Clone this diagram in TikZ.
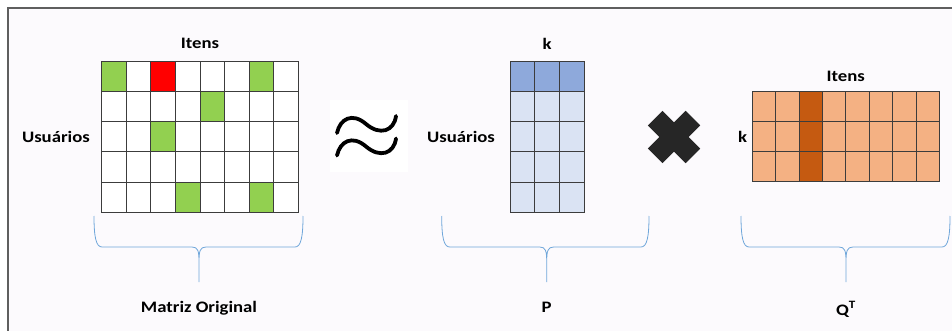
\documentclass[tikz,border=0pt]{standalone}
\usepackage{fontspec}
\setmainfont[FakeStretch=1.17]{Carlito}
\usetikzlibrary{positioning}

\definecolor{bgc}{HTML}{FCFAFD}
\definecolor{framec}{HTML}{5F5F5F}
\definecolor{gridc}{HTML}{3C3C3C}
\definecolor{greenc}{HTML}{92D050}
\definecolor{bluedk}{HTML}{8EA9DB}
\definecolor{bluelt}{HTML}{DAE3F3}
\definecolor{orlt}{HTML}{F4B183}
\definecolor{ordk}{HTML}{C55A11}
\definecolor{bracec}{HTML}{6FA6DA}
\definecolor{crossc}{HTML}{262626}

% curly brace under a matrix: left x, tip x, right x, name of tip
\newcommand{\curly}[4]{%
  \draw[brc] (#1,216) .. controls (#1,237) and (#1+2,247) .. (#1+8,247)
    -- (#2-7,247) .. controls (#2-1,247) and (#2,251) .. (#2,262) -- (#2,282) coordinate (#4)
    -- (#2,262) .. controls (#2,251) and (#2+1,247) .. (#2+7,247)
    -- (#3-8,247) .. controls (#3-2,247) and (#3,237) .. (#3,216);}

\begin{document}
\begin{tikzpicture}[x=1pt,y=-1pt,
    lbl/.style={font=\bfseries\fontsize{16}{19}\selectfont, inner sep=0pt, text=black},
    mat/.style={inner sep=0pt, outer sep=0pt},
    cell/.style={draw=gridc, line width=0.8pt},
    brc/.style={draw=bracec, line width=0.8pt}]

  \useasboundingbox (0,0) rectangle (952,331);
  \fill[white] (0,0) rectangle (952,331);
  \fill[bgc] (9,9) rectangle (952,331);
  \draw[framec, line width=2pt] (8,331) -- (8,8) -- (952,8);

  % matrices
  \node[mat, minimum width=196.6pt, minimum height=151.3pt] (R) at (200,136.6) {};
  \node[mat, minimum width=73.8pt, minimum height=151.3pt] (P) at (547,136.6) {};
  \node[mat, minimum width=187pt, minimum height=90pt] (Q) at (845.8,136.7) {};

  % original matrix
  \begin{scope}[shift={(101.7,61)}]
    \fill[white] (0,0) rectangle (196.6,151.3);
    \foreach \c/\r in {0/0,6/0,4/1,2/2,3/4,6/4}
      \fill[greenc] (\c*24.575,\r*30.26) rectangle ++(24.575,30.26);
    \fill[red] (2*24.575,0) rectangle ++(24.575,30.26);
    \foreach \c in {0,...,7}
      \foreach \r in {0,...,4}
        \draw[cell] (\c*24.575,\r*30.26) rectangle ++(24.575,30.26);
  \end{scope}

  % P
  \begin{scope}[shift={(510.1,61)}]
    \fill[bluelt] (0,0) rectangle (73.8,151.3);
    \fill[bluedk] (0,0) rectangle (73.8,30.26);
    \foreach \c in {0,1,2}
      \foreach \r in {0,...,4}
        \draw[cell] (\c*24.6,\r*30.26) rectangle ++(24.6,30.26);
  \end{scope}

  % Q transposed
  \begin{scope}[shift={(752.3,91.7)}]
    \fill[orlt] (0,0) rectangle (187,90);
    \fill[ordk] (2*23.375,0) rectangle ++(23.375,90);
    \foreach \c in {0,...,7}
      \foreach \r in {0,1,2}
        \draw[cell] (\c*23.375,\r*30) rectangle ++(23.375,30);
  \end{scope}

  % approx
  \fill[white] (330,100) rectangle (408,172);
  \foreach \dy in {0,22.5}
    \draw[black, line width=3.8pt, line cap=round]
      (337,133+\dy) .. controls (340,119+\dy) and (352,112+\dy) .. (366,124+\dy)
      .. controls (380,136+\dy) and (394,131+\dy) .. (396,116+\dy);

  % times
  \begin{scope}[shift={(674,137)}]
    \fill[crossc, rotate=45] (-26.7,-10.3) rectangle (26.7,10.3);
    \fill[crossc, rotate=-45] (-26.7,-10.3) rectangle (26.7,10.3);
  \end{scope}

  % labels
  \node[lbl, above=12.5pt of R] (itR) {Itens};
  \node[lbl, left=11.7pt of R] (usR) {Usuários};
  \node[lbl, above=11.5pt of P] (kP) {k};
  \node[lbl, left=15pt of P] (usP) {Usuários};
  \node[lbl, above=9.5pt of Q] (itQ) {Itens};
  \node[lbl, left=5pt of Q] (kQ) {k};

  % braces
  \curly{94}{199}{303}{t1}
  \curly{441.7}{546.7}{649}{t2}
  \curly{741}{846}{950}{t3}

  \node[lbl, below=19.5pt of t1] (nR) {Matriz Original};
  \node[lbl, below=19.5pt of t2] (nP) {P};
  \node[lbl, below=19.5pt of t3] (nQ) {Q\textsuperscript{T}};
\end{tikzpicture}
\end{document}
